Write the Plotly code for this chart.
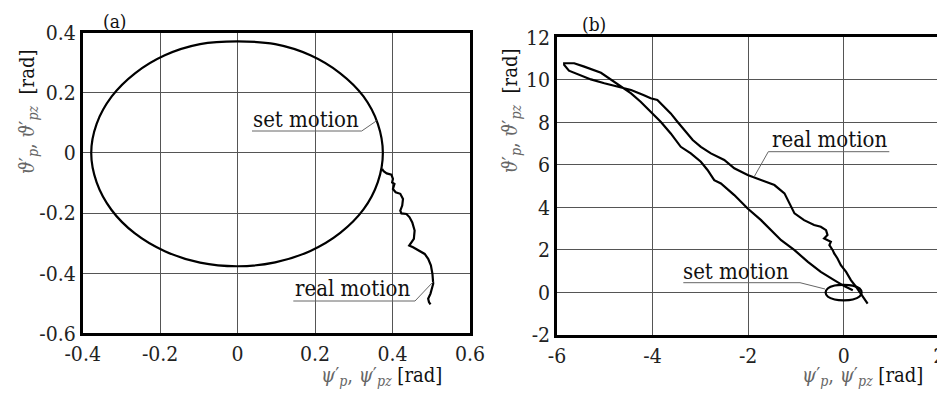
import plotly.graph_objects as go

W, H = 945, 394
OFF = 8  # default page body margin
FW, FH = W - OFF, H - OFF

# ---------------- data ----------------
a_set_x = [0.375, 0.362, 0.325, 0.265, 0.188, 0.097, 0.0, -0.097, -0.188, -0.265, -0.325, -0.364,
           -0.378, -0.364, -0.326, -0.266, -0.188, -0.097, 0.0, 0.097, 0.188, 0.265, 0.325, 0.362, 0.375]
a_set_y = [0.0, 0.097, 0.188, 0.265, 0.325, 0.362, 0.371, 0.362, 0.325, 0.265, 0.188, 0.097,
           0.0, -0.098, -0.189, -0.267, -0.327, -0.365, -0.377, -0.364, -0.326, -0.266, -0.188, -0.097, 0.0]
a_real_x = [0.373, 0.377, 0.385, 0.397, 0.401, 0.399, 0.405, 0.401, 0.408, 0.420, 0.427, 0.425, 0.420,
            0.423, 0.436, 0.444, 0.451, 0.457, 0.455, 0.443, 0.453, 0.470, 0.483, 0.492, 0.499, 0.503,
            0.505, 0.498, 0.492, 0.494, 0.498]
a_real_y = [-0.053, -0.061, -0.068, -0.072, -0.086, -0.098, -0.103, -0.120, -0.131, -0.136, -0.153, -0.175,
            -0.192, -0.201, -0.203, -0.214, -0.231, -0.258, -0.286, -0.308, -0.314, -0.325, -0.336, -0.352,
            -0.374, -0.402, -0.435, -0.468, -0.485, -0.496, -0.504]

b_set_x = [0.375, 0.33, 0.19, 0.0, -0.19, -0.33, -0.38, -0.33, -0.19, 0.0, 0.19, 0.33, 0.375]
b_set_y = [0.0, 0.19, 0.32, 0.36, 0.33, 0.2, 0.0, -0.2, -0.33, -0.37, -0.33, -0.19, 0.0]

b_real_x = [0.19, 0.01, -0.20, -0.48, -0.75, -1.03, -1.31, -1.45, -1.73, -2.01, -2.29, -2.57, -2.71,
            -2.85, -2.99, -3.20, -3.41, -3.62, -3.83, -4.04, -4.25, -4.45, -4.66, -4.87, -5.08, -5.43,
            -5.64, -5.85, -5.85, -5.75, -5.57, -5.29, -5.01, -4.73, -4.45, -4.18, -4.04, -3.90, -3.79,
            -3.62, -3.48, -3.34, -3.16, -2.99, -2.78, -2.50, -2.29, -2.01, -1.73, -1.45, -1.24, -1.14,
            -1.03, -0.83, -0.62, -0.48, -0.37, -0.34, -0.41, -0.27, -0.30, -0.23, -0.20, -0.13, -0.06,
            0.05, 0.15, 0.26, 0.33, 0.40, 0.50]
b_real_y = [0.11, 0.30, 0.58, 0.97, 1.44, 1.99, 2.46, 2.78, 3.40, 3.95, 4.58, 5.13, 5.28,
            5.76, 6.15, 6.54, 6.85, 7.48, 8.03, 8.50, 8.97, 9.36, 9.68, 9.99, 10.33, 10.62,
            10.78, 10.78, 10.70, 10.43, 10.27, 10.02, 9.84, 9.68, 9.52, 9.28, 9.13, 9.05, 8.81,
            8.42, 8.03, 7.64, 7.17, 6.85, 6.54, 6.23, 5.84, 5.52, 5.28, 5.05, 4.66, 4.19,
            3.72, 3.40, 3.17, 3.09, 2.93, 2.70, 2.54, 2.38, 2.23, 1.99, 1.84, 1.60, 1.28,
            0.97, 0.58, 0.26, 0.03, -0.21, -0.52]

a_xticks = [-0.4, -0.2, 0, 0.2, 0.4, 0.6]
a_xtext = ["-0.4", "-0.2", "0", "0.2", "0.4", "0.6"]
a_yticks = [-0.6, -0.4, -0.2, 0, 0.2, 0.4]
a_ytext = ["-0.6", "-0.4", "-0.2", "0", "0.2", "0.4"]
b_xticks = [-6, -4, -2, 0, 2]
b_xtext = ["-6", "-4", "-2", "0", "2"]
b_yticks = [-2, 0, 2, 4, 6, 8, 10, 12]
b_ytext = ["-2", "0", "2", "4", "6", "8", "10", "12"]

# ---------------- helpers (page pixel -> paper) ----------------
def px(x):
    return (x - OFF) / FW

def py(y):
    return 1 - (y - OFF) / FH

FONT = "DejaVu Serif Condensed, DejaVu Serif"

fig = go.Figure()
line = dict(color="black", width=2.2)
fig.add_trace(go.Scatter(x=a_set_x, y=a_set_y, mode="lines", line=dict(shape="spline", **line),
                         xaxis="x", yaxis="y", showlegend=False, hoverinfo="skip"))
fig.add_trace(go.Scatter(x=a_real_x, y=a_real_y, mode="lines", line=line,
                         xaxis="x", yaxis="y", showlegend=False, hoverinfo="skip"))
fig.add_trace(go.Scatter(x=b_set_x, y=b_set_y, mode="lines", line=dict(shape="spline", **line),
                         xaxis="x2", yaxis="y2", showlegend=False, hoverinfo="skip"))
fig.add_trace(go.Scatter(x=b_real_x, y=b_real_y, mode="lines", line=line,
                         xaxis="x2", yaxis="y2", showlegend=False, hoverinfo="skip"))

tickfont = dict(family=FONT, size=21, color="#222")
common = dict(showgrid=True, gridcolor="#555", gridwidth=1, showline=True, linecolor="black",
              linewidth=2.5, mirror=True, ticks="", zeroline=False, tickfont=tickfont,
              tickmode="array", fixedrange=True, automargin=False, ticklabeloverflow="allow")

fig.update_layout(
    template="none",
    width=FW, height=FH, margin=dict(l=0, r=0, t=0, b=0, autoexpand=False),
    font=dict(family=FONT, size=21, color="#111"),
    paper_bgcolor="white", plot_bgcolor="white", showlegend=False,
    xaxis=dict(domain=[px(82.7), px(470)], range=[-0.4, 0.6], tickvals=a_xticks, ticktext=a_xtext,
               anchor="y", **common),
    yaxis=dict(domain=[py(333.3), py(32.7)], range=[-0.6, 0.4], tickvals=a_yticks, ticktext=a_ytext,
               anchor="x", **common),
    xaxis2=dict(domain=[px(557), px(939.3)], range=[-6, 2], tickvals=b_xticks, ticktext=b_xtext,
                anchor="y2", **common),
    yaxis2=dict(domain=[py(335), py(37.3)], range=[-2, 12], tickvals=b_yticks, ticktext=b_ytext,
                anchor="x2", **common),
)

ann = []
def add_text(x, y, text, size=22, color="#111", angle=0):
    ann.append(dict(x=px(x), y=py(y), xref="paper", yref="paper", text=text, showarrow=False,
                    xanchor="center", yanchor="middle", textangle=angle,
                    font=dict(family=FONT, size=size, color=color)))

add_text(115, 21, "(a)", size=19)
add_text(594, 24, "(b)", size=19)
add_text(306, 119, "set motion")
add_text(352, 288, "real motion")
add_text(736, 271, "set motion")
add_text(829, 139, "real motion")

xt = ("<span style='color:#666'><i>ψ</i>′<sub><i>p</i></sub>, <i>ψ</i>′<sub><i>pz</i></sub></span> [rad]")
yt = ("<span style='color:#666'><i>ϑ</i>′<sub><i>p</i></sub>, <i>ϑ</i>′<sub><i>pz</i></sub></span>  [rad]")
add_text(381, 376, xt, size=20)
add_text(862, 376, xt, size=20)
add_text(28, 112, yt, size=20, angle=-90)
add_text(511, 111, yt, size=20, angle=-90)

shapes = []
def seg(x0, y0, x1, y1):
    shapes.append(dict(type="line", xref="paper", yref="paper", x0=px(x0), y0=py(y0), x1=px(x1), y1=py(y1),
                       line=dict(color="#666", width=1)))

seg(252, 131, 361.7, 131); seg(361.7, 131, 376.7, 120.7)
seg(293.3, 301, 415, 301); seg(415, 301, 433.3, 281.7)
seg(683.3, 282.7, 800, 282.7); seg(800, 282.7, 825, 289)
seg(768.3, 151.7, 889.3, 151.7); seg(768.3, 151.7, 754, 177)

fig.update_layout(annotations=ann, shapes=shapes)
fig.write_html("out.html")
